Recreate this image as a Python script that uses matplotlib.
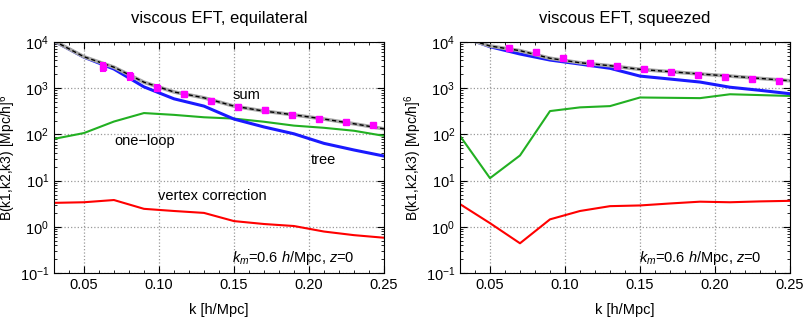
import matplotlib
matplotlib.use('Agg')
import matplotlib.pyplot as plt
from matplotlib.ticker import LogLocator, MultipleLocator, NullFormatter

plt.rcParams['font.family'] = ['Liberation Sans', 'DejaVu Sans']
plt.rcParams['mathtext.fontset'] = 'custom'
plt.rcParams['mathtext.rm'] = 'Liberation Sans'
plt.rcParams['mathtext.it'] = 'Liberation Sans:italic'

# k grid of the theory curves
k = [0.03, 0.05, 0.07, 0.09, 0.11, 0.13, 0.15, 0.17, 0.19, 0.21, 0.23, 0.25]

# equilateral
eq_tree = [10500, 4700, 2600, 1070, 590, 410, 215, 145, 103, 64, 46, 34]
eq_loop = [80, 107, 190, 290, 265, 235, 220, 188, 155, 139, 120, 93]
eq_vertex = [3.3, 3.4, 3.8, 2.45, 2.2, 2.0, 1.33, 1.15, 1.04, 0.79, 0.66, 0.58]
eq_sum = [10600, 4800, 2850, 1350, 830, 620, 410, 320, 265, 215, 170, 132]

# squeezed
sq_tree = [13500, 7900, 5500, 4070, 3330, 2700, 1830, 1580, 1360, 1050, 900, 760]
sq_loop = [93, 11.3, 35, 320, 385, 410, 630, 620, 610, 740, 710, 680]
sq_vertex = [3.1, 1.2, 0.44, 1.45, 2.2, 2.8, 2.9, 3.2, 3.5, 3.4, 3.55, 3.65]
sq_sum = [13000, 8200, 6500, 4450, 3560, 3070, 2560, 2280, 2030, 1830, 1630, 1450]

# simulation measurements
k_sim = [0.0627, 0.0807, 0.0987, 0.1167, 0.1347, 0.1527, 0.1707, 0.1887, 0.2067, 0.2247, 0.2427]
eq_sim = [2950, 1850, 1010, 750, 540, 400, 340, 263, 215, 188, 158]
eq_err = [600, 320, 150, 90, 55, 35, 25, 18, 14, 11, 9]
sq_sim = [7500, 6000, 4450, 3560, 3070, 2560, 2240, 1960, 1750, 1580, 1450]
sq_err = [500, 350, 200, 130, 90, 70, 50, 40, 35, 30, 25]


def panel(ax, title, tree, loop, vertex, total, sim, err, labels):
    ax.plot(k, loop, color='#22b022', lw=1.5)
    ax.plot(k, vertex, color='red', lw=1.5)
    ax.plot(k, tree, color='#1a1aff', lw=2.2)
    ax.plot(k, total, color='0.65', lw=2.6)
    ax.plot(k, total, color='black', lw=1.0, dashes=(3, 2))
    ax.errorbar(k_sim, sim, yerr=err, fmt='s', color='magenta', ms=4.5,
                elinewidth=1.5, capsize=2, capthick=1.5, zorder=5)

    ax.set_yscale('log')
    ax.set_xlim(0.03, 0.25)
    ax.set_ylim(0.1, 1e4)
    ax.xaxis.set_major_locator(MultipleLocator(0.05))
    ax.xaxis.set_minor_locator(MultipleLocator(0.01))
    ax.xaxis.set_major_formatter(plt.FuncFormatter(lambda v, p: f'{v:.2f}'))
    ax.yaxis.set_major_locator(LogLocator(base=10, numticks=10))
    ax.yaxis.set_minor_locator(LogLocator(base=10, subs=range(2, 10), numticks=10))
    ax.yaxis.set_minor_formatter(NullFormatter())
    ax.tick_params(which='both', direction='in', top=True, right=True, labelsize=10.5)
    ax.tick_params(which='major', length=5)
    ax.tick_params(which='minor', length=2.5)
    ax.grid(True, which='major', linestyle=':', color='0.6', linewidth=0.9)

    ax.set_title(title, fontsize=12, pad=14)
    ax.set_xlabel('k [h/Mpc]', fontsize=10.5, labelpad=8)
    ax.set_ylabel('B(k1,k2,k3) [Mpc/h]$^6$', fontsize=10, labelpad=1)
    for x, y, s in labels:
        ax.text(x, y, s, fontsize=10.5, ha='left', va='center')
    ax.text(0.149, 0.21, r'$k_m$=0.6 $h$/Mpc, $z$=0', fontsize=10.5, ha='left', va='center')


fig = plt.figure(figsize=(8.05, 3.21), dpi=100)
ax1 = fig.add_axes([0.067, 0.1495, 0.41, 0.7196])
ax2 = fig.add_axes([0.5714, 0.1495, 0.41, 0.7196])

panel(ax1, 'viscous EFT, equilateral', eq_tree, eq_loop, eq_vertex, eq_sum, eq_sim, eq_err,
      [(0.149, 720, 'sum'), (0.070, 72, 'one\u2212loop'), (0.201, 28, 'tree'),
       (0.0993, 4.6, 'vertex correction')])
panel(ax2, 'viscous EFT, squeezed', sq_tree, sq_loop, sq_vertex, sq_sum, sq_sim, sq_err, [])

fig.savefig('out.png', dpi=100)
